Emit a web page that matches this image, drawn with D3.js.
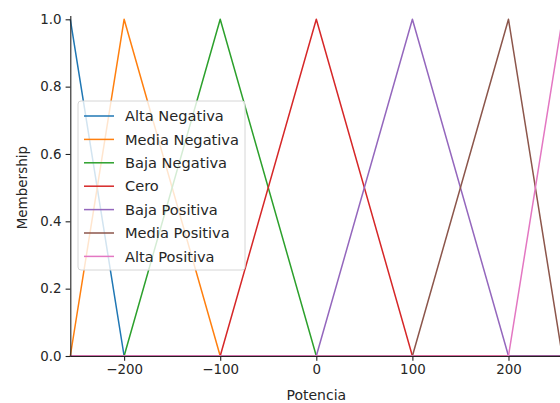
<!DOCTYPE html>
<html>
<head>
<meta charset="utf-8">
<script src="https://cdn.jsdelivr.net/npm/d3@7"></script>
<style>
  body { margin: 0; background: #fff; }
  text { font-family: "DejaVu Sans", sans-serif; }
</style>
</head>
<body>
<div id="chart"></div>
<script>
// Membership function names and colours (matplotlib tab10 order).
const names = ["Alta Negativa", "Media Negativa", "Baja Negativa", "Cero",
               "Baja Positiva", "Media Positiva", "Alta Positiva"];
const colors = ["#1f77b4", "#ff7f0e", "#2ca02c", "#d62728", "#9467bd", "#8c564b", "#e377c2"];

// Vertices of each triangular function over the universe [-256, 256].
const xsAltaNeg  = [-256, -200, 256];
const ysAltaNeg  = [1, 0, 0];
const xsMediaNeg = [-256, -200, -100, 256];
const ysMediaNeg = [0, 1, 0, 0];
const xsBajaNeg  = [-256, -200, -100, 0, 256];
const ysBajaNeg  = [0, 0, 1, 0, 0];
const xsCero     = [-256, -100, 0, 100, 256];
const ysCero     = [0, 0, 1, 0, 0];
const xsBajaPos  = [-256, 0, 100, 200, 256];
const ysBajaPos  = [0, 0, 1, 0, 0];
const xsMediaPos = [-256, 100, 200, 256];
const ysMediaPos = [0, 0, 1, 0];
const xsAltaPos  = [-256, 200, 256];
const ysAltaPos  = [0, 0, 1];

const xTicks = [-200, -100, 0, 100, 200];
const yTicks = [0, 0.2, 0.4, 0.6, 0.8, 1.0];

const seriesX = [xsAltaNeg, xsMediaNeg, xsBajaNeg, xsCero, xsBajaPos, xsMediaPos, xsAltaPos];
const seriesY = [ysAltaNeg, ysMediaNeg, ysBajaNeg, ysCero, ysBajaPos, ysMediaPos, ysAltaPos];
const series = names.map((name, i) => ({
  name, color: colors[i],
  points: seriesX[i].map((x, j) => [x, seriesY[i][j]])
}));

const width = 560, height = 403;
const left = 70.3, bottom = 356;

const svg = d3.select("#chart").append("svg")
  .attr("width", width)
  .attr("height", height);

const x = d3.scaleLinear().domain([-256, 256]).range([left, 562.3]);
const y = d3.scaleLinear().domain([0, 1]).range([bottom, 19.3]);

// Lines
const line = d3.line().x(d => x(d[0])).y(d => y(d[1]));
svg.append("g").selectAll("path")
  .data(series)
  .enter().append("path")
  .attr("fill", "none")
  .attr("stroke", d => d.color)
  .attr("stroke-width", 1.5)
  .attr("stroke-linejoin", "round")
  .attr("d", d => line(d.points));

// Axes
const xAxis = svg.append("g")
  .attr("transform", `translate(0,${bottom})`)
  .call(d3.axisBottom(x).tickValues(xTicks).tickSize(4.7).tickPadding(4).tickFormat(d3.format("d")));
const yAxis = svg.append("g")
  .attr("transform", `translate(${left},0)`)
  .call(d3.axisLeft(y).tickValues(yTicks).tickSize(4.7).tickPadding(4).tickFormat(d3.format(".1f")));

xAxis.select(".domain").attr("d", `M${left},0.5H${width + 10}`);
yAxis.select(".domain").attr("d", `M0.5,${bottom}V${y(1.01)}`);
[xAxis, yAxis].forEach(a => {
  a.selectAll(".domain").attr("stroke", "#222").attr("stroke-width", 1.1);
  a.selectAll(".tick line").attr("stroke", "#222").attr("stroke-width", 1.1);
  a.selectAll(".tick text").attr("fill", "#262626").style("font-size", "13.4px");
});

// Axis labels
svg.append("text")
  .attr("x", x(0))
  .attr("y", 400)
  .attr("text-anchor", "middle")
  .attr("fill", "#262626")
  .style("font-size", "14px")
  .text("Potencia");

svg.append("text")
  .attr("transform", `translate(27,${y(0.5)}) rotate(-90)`)
  .attr("text-anchor", "middle")
  .attr("fill", "#262626")
  .style("font-size", "13.5px")
  .text("Membership");

// Legend
const legend = svg.append("g").attr("transform", "translate(78,101)");
legend.append("rect")
  .attr("width", 167)
  .attr("height", 169)
  .attr("rx", 3)
  .attr("fill", "#fff")
  .attr("fill-opacity", 0.8)
  .attr("stroke", "#d6d6d6");

const items = legend.selectAll(".item")
  .data(series)
  .enter().append("g")
  .attr("transform", (d, i) => `translate(0,${15 + i * 23.4})`);
items.append("line")
  .attr("x1", 6).attr("x2", 36)
  .attr("stroke", d => d.color)
  .attr("stroke-width", 1.5);
items.append("text")
  .attr("x", 47)
  .attr("dy", "0.35em")
  .attr("fill", "#262626")
  .style("font-size", "14.6px")
  .text(d => d.name);
</script>
</body>
</html>
